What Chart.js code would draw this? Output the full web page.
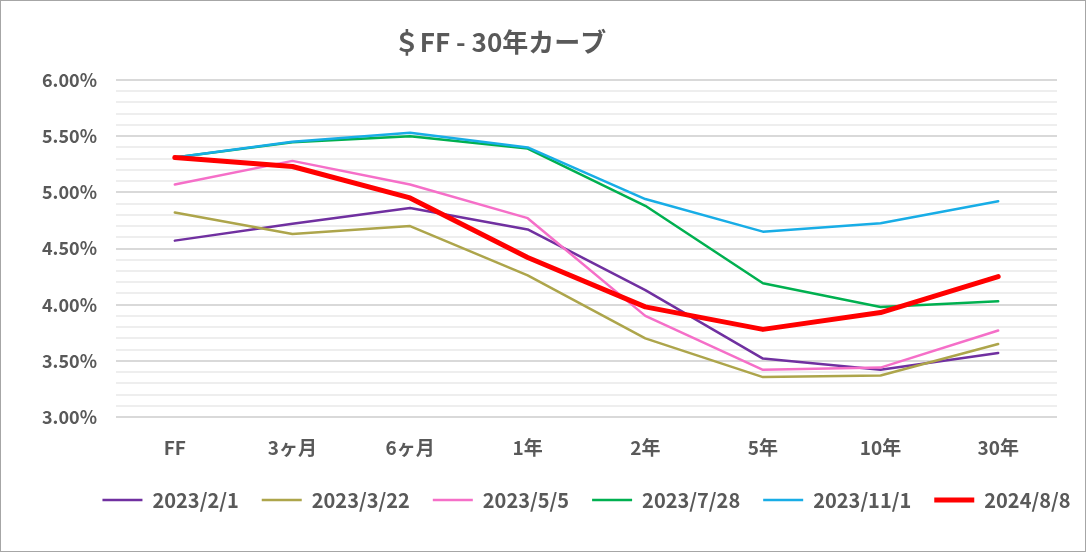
<!DOCTYPE html>
<html><head><meta charset="utf-8">
<script src="https://cdn.jsdelivr.net/npm/chart.js@4"></script>
<style>
html,body{margin:0;padding:0;background:#fff;}
#wrap{position:absolute;left:0;top:0;width:1084px;height:550px;border:1px solid #a6a6a6;background:#fff;}
</style></head><body>
<div id="wrap"><canvas id="c" width="1084" height="550"></canvas></div>
<script>
const chartTitle = '＄FF - 30年カーブ';
const categories = ['FF', '3ヶ月', '6ヶ月', '1年', '2年', '5年', '10年', '30年'];
const seriesNames = ['2023/2/1', '2023/3/22', '2023/5/5', '2023/7/28', '2023/11/1', '2024/8/8'];
const s20230201 = [4.57, 4.72, 4.86, 4.67, 4.13, 3.52, 3.42, 3.57];
const s20230322 = [4.82, 4.63, 4.70, 4.26, 3.70, 3.355, 3.37, 3.65];
const s20230505 = [5.07, 5.28, 5.07, 4.77, 3.90, 3.42, 3.44, 3.77];
const s20230728 = [5.31, 5.445, 5.50, 5.39, 4.88, 4.19, 3.98, 4.03];
const s20231101 = [5.31, 5.45, 5.53, 5.40, 4.94, 4.65, 4.725, 4.92];
const s20240808 = [5.31, 5.23, 4.95, 4.42, 3.98, 3.78, 3.93, 4.25];
const yTickLabels = ['3.00%', '3.50%', '4.00%', '4.50%', '5.00%', '5.50%', '6.00%'];

const seriesValues = [s20230201, s20230322, s20230505, s20230728, s20231101, s20240808];
const colors = ['#7030A0', '#ADA54B', '#F56FC8', '#00B050', '#18ADE6', '#FF0000'];
const widths = [2.5, 2.5, 2.5, 2.5, 2.5, 5];
const orders = [5, 4, 3, 2, 1, 0];

const FONT = '"Noto Sans CJK JP", "Noto Sans", sans-serif';
const TXT = '#595959';

const titlePlugin = {
  id: 'customTitle',
  afterDraw(chart) {
    const ctx = chart.ctx;
    ctx.save();
    ctx.font = 'bold 26px ' + FONT;
    ctx.fillStyle = TXT;
    ctx.textAlign = 'center';
    ctx.textBaseline = 'middle';
    ctx.fillText(chartTitle, 499, 41);
    ctx.restore();
  }
};

// centre the legend row under the plot area instead of the whole canvas
const legendShift = {
  id: 'legendShift',
  afterLayout(chart) {
    const lg = chart.legend;
    if (!lg) return;
    const dx = ((chart.chartArea.left + chart.chartArea.right) - (lg.left + lg.right)) / 2;
    lg.left += dx;
    lg.right += dx;
  }
};

const datasets = seriesNames.map((name, i) => ({
  label: name,
  data: seriesValues[i],
  borderColor: colors[i],
  backgroundColor: colors[i],
  borderWidth: widths[i],
  borderCapStyle: 'round',
  borderJoinStyle: 'round',
  pointRadius: 0,
  pointHoverRadius: 0,
  pointStyle: 'line',
  tension: 0,
  fill: false,
  order: orders[i]
}));

function isMajor(v) { return Math.round(v * 10) % 5 === 0; }

new Chart(document.getElementById('c'), {
  type: 'line',
  data: { labels: categories, datasets },
  options: {
    responsive: false,
    animation: false,
    devicePixelRatio: 1,
    layout: { padding: { top: 79, right: 28, left: 0, bottom: 31 } },
    plugins: {
      title: { display: false },
      tooltip: { enabled: false },
      legend: {
        position: 'bottom',
        labels: {
          usePointStyle: true,
          pointStyle: 'line',
          pointStyleWidth: 40,
          padding: 23,
          color: TXT,
          font: { family: FONT, size: 20, weight: 'bold' },
          sort: (a, b) => a.datasetIndex - b.datasetIndex
        }
      }
    },
    scales: {
      x: {
        offset: true,
        grid: { display: false, drawTicks: false },
        border: { display: false },
        ticks: { color: TXT, font: { family: FONT, size: 19, weight: 'bold' }, padding: 19, maxRotation: 0 },
        afterFit(s) { s.height = 50; }
      },
      y: {
        min: 3, max: 6,
        border: { display: false },
        grid: {
          drawTicks: false,
          color: c => isMajor(c.tick.value) ? '#d9d9d9' : '#eeeeee',
          lineWidth: 2
        },
        ticks: {
          stepSize: 0.1,
          autoSkip: false,
          color: TXT,
          padding: 19,
          font: { family: FONT, size: 18, weight: 'bold' },
          callback: v => isMajor(v) ? yTickLabels[Math.round((v - 3) * 2)] : ''
        },
        afterFit(s) { s.width = 115; }
      }
    }
  },
  plugins: [titlePlugin, legendShift]
});
</script>
</body></html>
